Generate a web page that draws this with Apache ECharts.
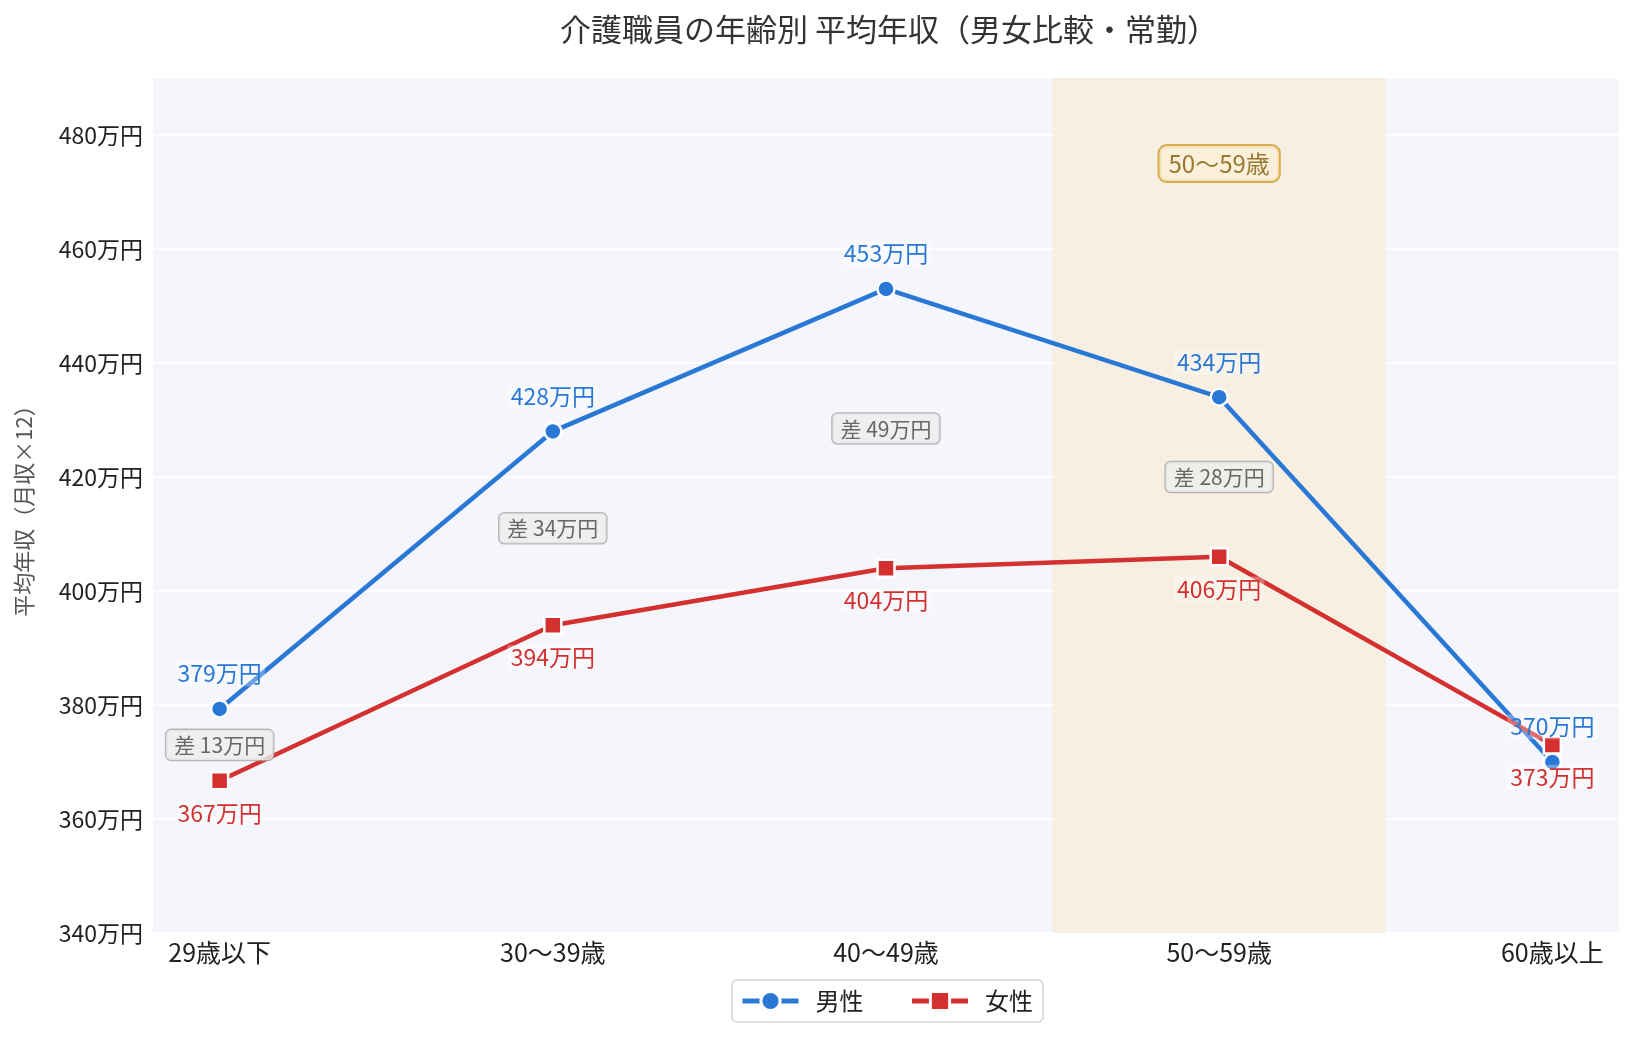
<!DOCTYPE html>
<html>
<head>
<meta charset="utf-8">
<script src="https://cdn.jsdelivr.net/npm/echarts@6/dist/echarts.min.js"></script>
<style>
  html, body { margin: 0; padding: 0; background: #fff; }
  #chart { width: 1635px; height: 1040px; }
</style>
</head>
<body>
<div id="chart"></div>
<script>
// data (万円)
var categories = ['29歳以下', '30〜39歳', '40〜49歳', '50〜59歳', '60歳以上'];
var maleValues = [379.3, 428, 453, 434, 370];
var femaleValues = [366.7, 394, 404, 406, 373];
var yTicks = [340, 360, 380, 400, 420, 440, 460, 480];
var highlightIndex = 3;
var highlightLabelValue = 475;

var FONT = '"Noto Sans CJK JP", "Noto Sans", sans-serif';
var BLUE = '#2a78d5';
var RED = '#d4302f';

// gap boxes between the two lines, only where men earn more
var gapPoints = [];
categories.forEach(function (c, i) {
    var d = maleValues[i] - femaleValues[i];
    if (d > 0) gapPoints.push({ value: [i, (maleValues[i] + femaleValues[i]) / 2], diff: Math.round(d) });
});

function pairs(values) {
    return values.map(function (v, i) { return [i, v]; });
}

var chart = echarts.init(document.getElementById('chart'));

var option = {
    animation: false,
    textStyle: { fontFamily: FONT },
    title: {
        text: '介護職員の年齢別 平均年収（男女比較・常勤）',
        left: 884,
        textAlign: 'center',
        top: 9,
        textStyle: { fontSize: 31, fontWeight: 'normal', color: '#333', fontFamily: FONT }
    },
    legend: {
        data: ['男性', '女性'],
        left: 732,
        bottom: 18,
        itemWidth: 56,
        itemHeight: 24,
        itemGap: 46,
        padding: [9, 10, 9, 8],
        borderColor: '#d4d4d4',
        borderWidth: 1.5,
        borderRadius: 5,
        lineStyle: { width: 5 },
        itemStyle: { borderWidth: 3 },
        textStyle: { fontSize: 24, color: '#222', fontFamily: FONT, padding: [0, 0, 0, 12] }
    },
    grid: {
        show: true,
        z: -2,
        left: 153,
        right: 16,
        top: 78,
        bottom: 107,
        backgroundColor: '#f4f6fc',
        borderWidth: 0
    },
    xAxis: {
        type: 'value',
        min: -0.2,
        max: 4.2,
        axisLine: { show: false },
        axisTick: { show: false },
        splitLine: { show: false },
        axisLabel: {
            customValues: [0, 1, 2, 3, 4],
            formatter: function (v) { return categories[Math.round(v)]; },
            fontSize: 25,
            color: '#222',
            margin: 7,
            fontFamily: FONT
        }
    },
    yAxis: {
        type: 'value',
        min: 340,
        max: 490,
        interval: 20,
        name: '平均年収（月収×12）',
        nameLocation: 'middle',
        nameGap: 118,
        nameTextStyle: { fontSize: 22, color: '#555', fontFamily: FONT },
        axisLine: { show: false },
        axisTick: { show: false },
        axisLabel: {
            showMaxLabel: false,
            formatter: function (v) { return yTicks.indexOf(v) >= 0 ? v + '万円' : ''; },
            fontSize: 23,
            color: '#222',
            margin: 10,
            fontFamily: FONT
        },
        splitLine: { lineStyle: { color: '#ffffff', width: 2 } }
    },
    series: [
        {
            name: 'band',
            type: 'line',
            z: -1,
            data: [],
            silent: true,
            markArea: {
                silent: true,
                itemStyle: { color: '#f7efe2' },
                data: [[{ xAxis: highlightIndex - 0.5 }, { xAxis: highlightIndex + 0.5 }]]
            }
        },
        {
            name: '男性',
            type: 'line',
            z: 3,
            data: pairs(maleValues),
            symbol: 'circle',
            symbolSize: 17,
            color: BLUE,
            lineStyle: { width: 4.5, color: BLUE },
            itemStyle: { color: BLUE, borderColor: '#fff', borderWidth: 2.5 },
            label: {
                show: true,
                position: 'top',
                distance: 13,
                formatter: function (p) { return Math.round(p.value[1]) + '万円'; },
                color: BLUE,
                fontSize: 23,
                fontFamily: FONT,
                backgroundColor: 'rgba(255,255,255,0.3)',
                padding: [1, 3]
            }
        },
        {
            name: '女性',
            type: 'line',
            z: 3,
            data: pairs(femaleValues),
            symbol: 'rect',
            symbolSize: 17,
            color: RED,
            lineStyle: { width: 4.5, color: RED },
            itemStyle: { color: RED, borderColor: '#fff', borderWidth: 2.5 },
            label: {
                show: true,
                position: 'bottom',
                distance: 10,
                formatter: function (p) { return Math.round(p.value[1]) + '万円'; },
                color: RED,
                fontSize: 23,
                fontFamily: FONT,
                backgroundColor: 'rgba(255,255,255,0.3)',
                padding: [1, 3]
            }
        },
        {
            name: 'gap',
            type: 'scatter',
            z: 4,
            symbolSize: 0,
            data: gapPoints,
            silent: true,
            label: {
                show: true,
                position: 'inside',
                formatter: function (p) { return '差 ' + p.data.diff + '万円'; },
                color: '#444',
                fontSize: 21,
                fontFamily: FONT,
                backgroundColor: '#eeeeee',
                borderColor: '#a8a8a8',
                borderWidth: 1.3,
                borderRadius: 5,
                padding: [5, 8, 4, 8]
            }
        },
        {
            name: 'bandLabel',
            type: 'scatter',
            z: 4,
            symbolSize: 0,
            silent: true,
            data: [[highlightIndex, highlightLabelValue]],
            label: {
                show: true,
                position: 'inside',
                formatter: function () { return categories[highlightIndex]; },
                color: '#805a06',
                fontSize: 24,
                fontFamily: FONT,
                backgroundColor: '#fcf0d8',
                borderColor: '#d09c2c',
                borderWidth: 2,
                borderRadius: 7,
                padding: [6, 9, 5, 9]
            }
        }
    ]
};

chart.setOption(option);
</script>
</body>
</html>
